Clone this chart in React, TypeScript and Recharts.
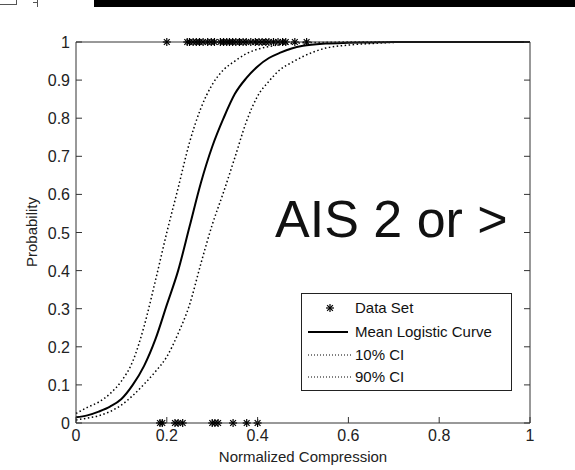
import { ComposedChart, Line, Scatter, XAxis, YAxis, Legend } from 'recharts';

const FONT = '"Liberation Sans", Arial, sans-serif';

// sample positions along the normalized compression axis
const xValues = [
  0, 0.025, 0.05, 0.075, 0.1, 0.125, 0.15, 0.175, 0.2, 0.225, 0.25, 0.275, 0.3, 0.325,
  0.35, 0.375, 0.4, 0.425, 0.45, 0.475, 0.5, 0.55, 0.6, 0.65, 0.7, 0.8, 0.9, 1,
];
const meanCurve = [
  0.015, 0.02, 0.03, 0.043, 0.063, 0.1, 0.15, 0.22, 0.31, 0.4, 0.515, 0.63, 0.725, 0.8,
  0.864, 0.905, 0.936, 0.958, 0.972, 0.983, 0.99, 0.996, 0.998, 0.999, 1, 1, 1, 1,
];
// left (steeper) dotted bound
const ci10 = [
  0.025, 0.041, 0.055, 0.077, 0.11, 0.162, 0.254, 0.374, 0.5, 0.617, 0.736, 0.826, 0.888, 0.927,
  0.95, 0.969, 0.981, 0.988, 0.993, 0.996, 0.998, 0.999, 1, 1, 1, 1, 1, 1,
];
// right dotted bound
const ci90 = [
  0.008, 0.013, 0.019, 0.03, 0.047, 0.072, 0.102, 0.135, 0.174, 0.235, 0.31, 0.418, 0.52, 0.606,
  0.697, 0.79, 0.858, 0.897, 0.928, 0.946, 0.962, 0.984, 0.992, 0.996, 0.999, 1, 1, 1,
];

// observed cases (injured at 1, not injured at 0)
const injured = [
  0.2, 0.245, 0.25, 0.258, 0.265, 0.272, 0.28, 0.29, 0.298, 0.305, 0.318, 0.325, 0.332, 0.338,
  0.345, 0.352, 0.36, 0.368, 0.375, 0.385, 0.395, 0.403, 0.41, 0.418, 0.425, 0.435, 0.445,
  0.455, 0.462, 0.482, 0.508,
];
const notInjured = [0.185, 0.19, 0.218, 0.225, 0.235, 0.3, 0.306, 0.313, 0.346, 0.376, 0.4];

const xTicks = [0, 0.2, 0.4, 0.6, 0.8, 1];
const yTicks = [0, 0.1, 0.2, 0.3, 0.4, 0.5, 0.6, 0.7, 0.8, 0.9, 1];

const toPoints = (ys: number[]) => xValues.map((x, i) => ({ x, y: ys[i] }));
const dataSet = [
  ...injured.map((x) => ({ x, y: 1 })),
  ...notInjured.map((x) => ({ x, y: 0 })),
];

const AXIS = '#333';
const TICK = 6;

const BottomTick = ({ x, y, payload }: any) => (
  <g>
    <line x1={x} y1={y} x2={x} y2={y - TICK} stroke={AXIS} />
    <text x={x} y={y + 18} textAnchor="middle" fontSize={16} fill="#222" fontFamily={FONT}>
      {String(payload.value)}
    </text>
  </g>
);
const TopTick = ({ x, y }: any) => <line x1={x} y1={y} x2={x} y2={y + TICK} stroke={AXIS} />;
const LeftTick = ({ x, y, payload }: any) => (
  <g>
    <line x1={x} y1={y} x2={x + TICK} y2={y} stroke={AXIS} />
    <text x={x - 6} y={y + 6} textAnchor="end" fontSize={16} fill="#222" fontFamily={FONT}>
      {String(payload.value)}
    </text>
  </g>
);
const RightTick = ({ x, y }: any) => <line x1={x} y1={y} x2={x - TICK} y2={y} stroke={AXIS} />;

const Asterisk = ({ cx, cy }: any) => {
  const r = 4;
  const d = 2.9;
  return (
    <g stroke="#000" strokeWidth={1.2}>
      <line x1={cx - r} y1={cy} x2={cx + r} y2={cy} />
      <line x1={cx} y1={cy - r} x2={cx} y2={cy + r} />
      <line x1={cx - d} y1={cy - d} x2={cx + d} y2={cy + d} />
      <line x1={cx - d} y1={cy + d} x2={cx + d} y2={cy - d} />
    </g>
  );
};

const LegendBox = () => {
  const rows = [
    { label: 'Data Set', kind: 'star', y: 15 },
    { label: 'Mean Logistic Curve', kind: 'solid', y: 39 },
    { label: '10% CI', kind: 'dot', y: 62 },
    { label: '90% CI', kind: 'dot', y: 84 },
  ];
  return (
    <svg width={211} height={98} style={{ display: 'block' }}>
      <rect x={0.5} y={0.5} width={210} height={97} fill="#fff" stroke="#222" />
      {rows.map((r) => (
        <g key={r.label}>
          {r.kind === 'star' && <Asterisk cx={29} cy={r.y} />}
          {r.kind === 'solid' && <line x1={7} y1={r.y} x2={47} y2={r.y} stroke="#000" strokeWidth={2} />}
          {r.kind === 'dot' && (
            <line x1={7} y1={r.y} x2={50} y2={r.y} stroke="#000" strokeWidth={1} strokeDasharray="1 2" />
          )}
          <text x={54} y={r.y + 5} fontSize={15} fill="#111" fontFamily={FONT}>
            {r.label}
          </text>
        </g>
      ))}
    </svg>
  );
};

export default function App() {
  return (
    <div style={{ position: 'absolute', left: 0, top: 0, width: 575, height: 470, background: '#fff' }}>
      <div style={{ position: 'absolute', left: 94, top: 0, width: 481, height: 7, background: '#000' }} />
      <div style={{ position: 'absolute', left: 0, top: 4, width: 16, height: 1, background: '#555' }} />
      <div style={{ position: 'absolute', left: 16, top: 0, width: 1, height: 5, background: '#555' }} />
      <div style={{ position: 'absolute', left: 33, top: 2, width: 4, height: 1, background: '#555' }} />
      <div style={{ position: 'absolute', left: 37, top: 0, width: 1, height: 7, background: '#555' }} />
      <ComposedChart
        width={575}
        height={470}
        margin={{ top: 41, right: 44, bottom: 46, left: 75 }}
        style={{ position: 'absolute', left: 0, top: 0 }}
      >
        <XAxis
          xAxisId="main"
          type="number"
          dataKey="x"
          domain={[0, 1]}
          ticks={xTicks}
          height={1}
          tickSize={0}
          tickMargin={0}
          tick={<BottomTick />}
          axisLine={{ stroke: AXIS }}
          label={{ value: 'Normalized Compression', position: 'bottom', offset: 27, fontSize: 15, fill: '#222', fontFamily: FONT }}
        />
        <XAxis
          xAxisId="top"
          orientation="top"
          type="number"
          domain={[0, 1]}
          allowDataOverflow
          ticks={xTicks}
          height={1}
          tickSize={0}
          tickMargin={0}
          tick={<TopTick />}
          axisLine={{ stroke: AXIS }}
        />
        <YAxis
          yAxisId="main"
          type="number"
          domain={[0, 1]}
          ticks={yTicks}
          width={1}
          tickSize={0}
          tickMargin={0}
          tick={<LeftTick />}
          axisLine={{ stroke: AXIS }}
        />
        <YAxis
          yAxisId="right"
          orientation="right"
          type="number"
          domain={[0, 1]}
          allowDataOverflow
          ticks={yTicks}
          width={1}
          tickSize={0}
          tickMargin={0}
          tick={<RightTick />}
          axisLine={{ stroke: AXIS }}
        />
        <Line
          xAxisId="main"
          yAxisId="main"
          data={toPoints(ci10)}
          dataKey="y"
          type="monotone"
          stroke="#000"
          strokeWidth={1.5}
          strokeDasharray="1.5 2.5"
          dot={false}
          isAnimationActive={false}
        />
        <Line
          xAxisId="main"
          yAxisId="main"
          data={toPoints(ci90)}
          dataKey="y"
          type="monotone"
          stroke="#000"
          strokeWidth={1.5}
          strokeDasharray="1.5 2.5"
          dot={false}
          isAnimationActive={false}
        />
        <Line
          xAxisId="main"
          yAxisId="main"
          data={toPoints(meanCurve)}
          dataKey="y"
          type="monotone"
          stroke="#000"
          strokeWidth={2}
          dot={false}
          isAnimationActive={false}
        />
        <Scatter
          xAxisId="main"
          yAxisId="main"
          data={dataSet}
          dataKey="y"
          shape={<Asterisk />}
          isAnimationActive={false}
        />
        <text x={33} y={232} transform="rotate(-90 33 232)" textAnchor="middle" dominantBaseline="middle" fontSize={15} fill="#222" fontFamily={FONT}>
          Probability
        </text>
        <text x={275} y={237} fontSize={52} fill="#111" fontFamily={FONT}>
          AIS 2 or &gt;
        </text>
        <Legend
          layout="vertical"
          align="center"
          verticalAlign="middle"
          wrapperStyle={{ left: 301, top: 293, width: 211, height: 98 }}
          content={() => <LegendBox />}
        />
      </ComposedChart>
    </div>
  );
}
